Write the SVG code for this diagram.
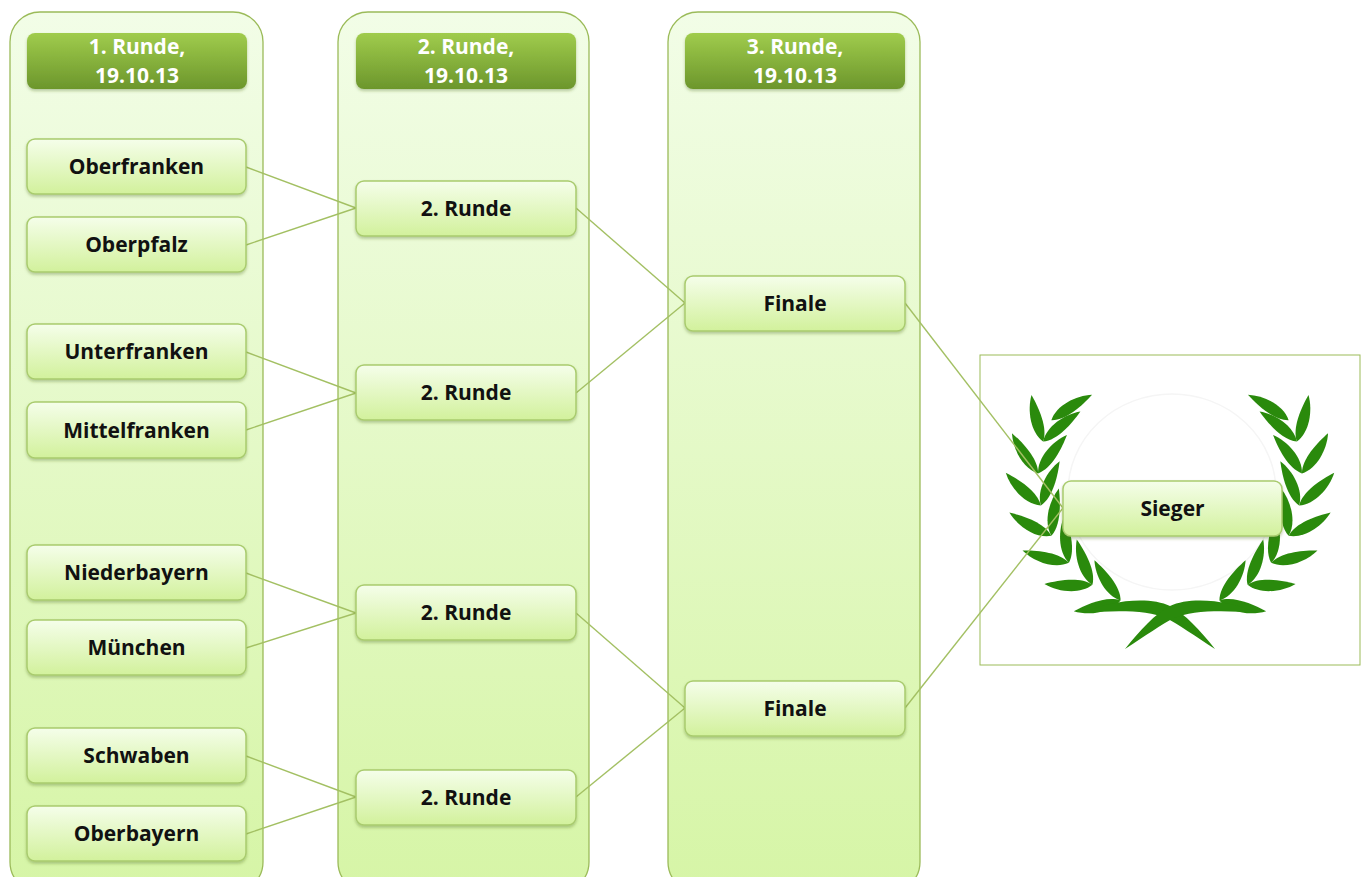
<svg xmlns="http://www.w3.org/2000/svg" xmlns:xlink="http://www.w3.org/1999/xlink" width="1362" height="877" viewBox="0 0 1362 877">
<style>
.col{fill:url(#gCol);stroke:#9bbb59;stroke-width:1.3}
.hdr{fill:url(#gHdr);filter:url(#sh)}
.node{fill:url(#gNode);stroke:#a9cb6e;stroke-width:1.5;filter:url(#sh)}
.ht{font-family:"Open Sans","Liberation Sans",sans-serif;font-weight:bold;font-size:21px;fill:#ffffff;text-anchor:middle}
.nt{font-family:"Open Sans","Liberation Sans",sans-serif;font-weight:bold;font-size:21px;fill:#111111;text-anchor:middle}
.con{stroke:#a3c063;stroke-width:1.4;fill:none}
.lf{fill:#2a8a0c}
</style>
<defs>
<linearGradient id="gCol" x1="0" y1="0" x2="0" y2="1">
<stop offset="0" stop-color="#f2fde7"/>
<stop offset="1" stop-color="#d6f5a6"/>
</linearGradient>
<linearGradient id="gHdr" x1="0" y1="0" x2="0" y2="1">
<stop offset="0" stop-color="#a0cc4c"/>
<stop offset="1" stop-color="#6c962c"/>
</linearGradient>
<linearGradient id="gNode" x1="0" y1="0" x2="0" y2="1">
<stop offset="0" stop-color="#f5feea"/>
<stop offset="1" stop-color="#d2f19c"/>
</linearGradient>
<filter id="sh" x="-10%" y="-20%" width="120%" height="150%">
<feDropShadow dx="0" dy="2" stdDeviation="1.5" flood-color="#4a6a1a" flood-opacity="0.35"/>
</filter>
<path id="leaf" d="M0,0 C12,-10 34,-8 48,0 C34,4 12,8 0,0 Z"/>
<g id="branch" class="lf">
<use xlink:href="#leaf" href="#leaf" transform="rotate(112) translate(132,0) rotate(55)"/>
<use xlink:href="#leaf" href="#leaf" transform="rotate(112) translate(132,0) rotate(125)"/>
<use xlink:href="#leaf" href="#leaf" transform="rotate(126) translate(132,0) rotate(55)"/>
<use xlink:href="#leaf" href="#leaf" transform="rotate(126) translate(132,0) rotate(125)"/>
<use xlink:href="#leaf" href="#leaf" transform="rotate(140) translate(132,0) rotate(55)"/>
<use xlink:href="#leaf" href="#leaf" transform="rotate(140) translate(132,0) rotate(125)"/>
<use xlink:href="#leaf" href="#leaf" transform="rotate(154) translate(132,0) rotate(55)"/>
<use xlink:href="#leaf" href="#leaf" transform="rotate(154) translate(132,0) rotate(125)"/>
<use xlink:href="#leaf" href="#leaf" transform="rotate(168) translate(132,0) rotate(55)"/>
<use xlink:href="#leaf" href="#leaf" transform="rotate(168) translate(132,0) rotate(125)"/>
<use xlink:href="#leaf" href="#leaf" transform="rotate(182) translate(132,0) rotate(55)"/>
<use xlink:href="#leaf" href="#leaf" transform="rotate(182) translate(132,0) rotate(125)"/>
<use xlink:href="#leaf" href="#leaf" transform="rotate(196) translate(132,0) rotate(60)"/>
<use xlink:href="#leaf" href="#leaf" transform="rotate(196) translate(132,0) rotate(125)"/>
<use xlink:href="#leaf" href="#leaf" transform="rotate(206) translate(132,0) rotate(122)"/>
</g>
<path id="bow" d="M1083,613 C1110,600 1150,596 1170,606 C1185,614 1200,630 1215,649 C1195,636 1178,624 1166,618 C1148,610 1115,610 1083,613 Z"/>
</defs>

<g id="columns">
<rect class="col" x="10" y="12" width="253" height="880" rx="30"/>
<rect class="col" x="338" y="12" width="251" height="880" rx="30"/>
<rect class="col" x="668" y="12" width="252" height="880" rx="30"/>
</g>

<g id="header1"><rect class="hdr" x="27" y="33" width="220" height="56" rx="8"/><text class="ht" x="137" y="54">1. Runde,</text><text class="ht" x="137" y="83">19.10.13</text></g>
<g id="header2"><rect class="hdr" x="356" y="33" width="220" height="56" rx="8"/><text class="ht" x="466" y="54">2. Runde,</text><text class="ht" x="466" y="83">19.10.13</text></g>
<g id="header3"><rect class="hdr" x="685" y="33" width="220" height="56" rx="8"/><text class="ht" x="795" y="54">3. Runde,</text><text class="ht" x="795" y="83">19.10.13</text></g>

<g id="trophy">
<rect x="980" y="355" width="380" height="310" fill="#ffffff" stroke="#9bbb59" stroke-width="1"/>
<ellipse cx="1172" cy="492" rx="104" ry="98" fill="none" stroke="#f5f5f5" stroke-width="1.5"/>
<use xlink:href="#branch" href="#branch" transform="translate(1170,478)"/>
<use xlink:href="#branch" href="#branch" transform="translate(1170,478) scale(-1,1)"/>
<use class="lf" xlink:href="#bow" href="#bow"/>
<use class="lf" xlink:href="#bow" href="#bow" transform="translate(2340,0) scale(-1,1)"/>
</g>

<g id="connectors">
<line class="con" x1="246" y1="167" x2="356" y2="208"/>
<line class="con" x1="246" y1="245" x2="356" y2="208"/>
<line class="con" x1="246" y1="352" x2="356" y2="393"/>
<line class="con" x1="246" y1="430" x2="356" y2="393"/>
<line class="con" x1="246" y1="573" x2="356" y2="613"/>
<line class="con" x1="246" y1="648" x2="356" y2="613"/>
<line class="con" x1="246" y1="756" x2="356" y2="797"/>
<line class="con" x1="246" y1="834" x2="356" y2="797"/>
<line class="con" x1="576" y1="208" x2="685" y2="303"/>
<line class="con" x1="576" y1="393" x2="685" y2="303"/>
<line class="con" x1="576" y1="613" x2="685" y2="708"/>
<line class="con" x1="576" y1="797" x2="685" y2="708"/>
<line class="con" x1="905" y1="303" x2="1063" y2="508"/>
<line class="con" x1="905" y1="708" x2="1063" y2="508"/>
</g>

<g id="n-oberfranken"><rect class="node" x="27" y="139" width="219" height="55" rx="8"/><text class="nt" x="136.5" y="174">Oberfranken</text></g>
<g id="n-oberpfalz"><rect class="node" x="27" y="217" width="219" height="55" rx="8"/><text class="nt" x="136.5" y="252">Oberpfalz</text></g>
<g id="n-unterfranken"><rect class="node" x="27" y="324" width="219" height="55" rx="8"/><text class="nt" x="136.5" y="359">Unterfranken</text></g>
<g id="n-mittelfranken"><rect class="node" x="27" y="402" width="219" height="56" rx="8"/><text class="nt" x="136.5" y="438">Mittelfranken</text></g>
<g id="n-niederbayern"><rect class="node" x="27" y="545" width="219" height="55" rx="8"/><text class="nt" x="136.5" y="580">Niederbayern</text></g>
<g id="n-muenchen"><rect class="node" x="27" y="620" width="219" height="55" rx="8"/><text class="nt" x="136.5" y="655">München</text></g>
<g id="n-schwaben"><rect class="node" x="27" y="728" width="219" height="55" rx="8"/><text class="nt" x="136.5" y="763">Schwaben</text></g>
<g id="n-oberbayern"><rect class="node" x="27" y="806" width="219" height="55" rx="8"/><text class="nt" x="136.5" y="841">Oberbayern</text></g>

<g id="n-runde2a"><rect class="node" x="356" y="181" width="220" height="55" rx="8"/><text class="nt" x="466" y="216">2. Runde</text></g>
<g id="n-runde2b"><rect class="node" x="356" y="365" width="220" height="55" rx="8"/><text class="nt" x="466" y="400">2. Runde</text></g>
<g id="n-runde2c"><rect class="node" x="356" y="585" width="220" height="55" rx="8"/><text class="nt" x="466" y="620">2. Runde</text></g>
<g id="n-runde2d"><rect class="node" x="356" y="770" width="220" height="55" rx="8"/><text class="nt" x="466" y="805">2. Runde</text></g>

<g id="n-finale1"><rect class="node" x="685" y="276" width="220" height="55" rx="8"/><text class="nt" x="795" y="311">Finale</text></g>
<g id="n-finale2"><rect class="node" x="685" y="681" width="220" height="55" rx="8"/><text class="nt" x="795" y="716">Finale</text></g>

<g id="n-sieger"><rect class="node" x="1063" y="481" width="219" height="55" rx="8"/><text class="nt" x="1172.5" y="516">Sieger</text></g>
</svg>
